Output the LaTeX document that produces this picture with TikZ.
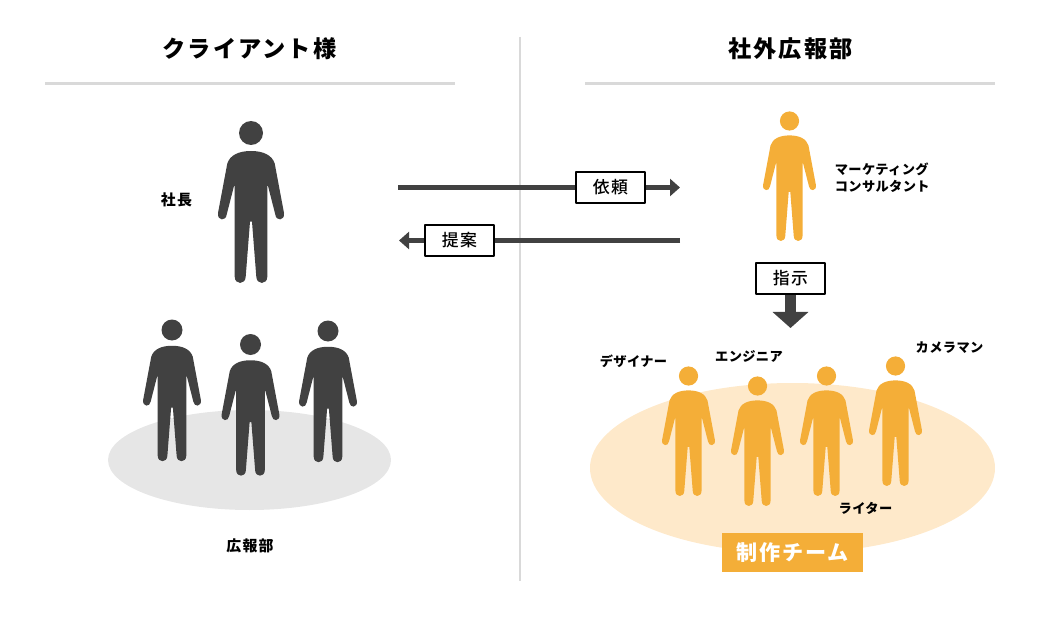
\documentclass[tikz,border=0pt]{standalone}
\usepackage{fontspec}
\usepackage{tikz}
\usetikzlibrary{arrows.meta}
\setmainfont{Noto Sans CJK JP}
\newfontfamily\headfont[LetterSpace=9]{Noto Sans CJK JP}
\newfontfamily\labelfont[LetterSpace=3]{Noto Sans CJK JP}
\newfontfamily\widefont[LetterSpace=8]{Noto Sans CJK JP}
\newfontfamily\tagfont[LetterSpace=8]{Noto Sans CJK JP Medium}
\definecolor{darkgrey}{HTML}{414141}
\definecolor{rulegrey}{HTML}{D9D9D9}
\definecolor{softgrey}{HTML}{E6E6E6}
\definecolor{teamorange}{HTML}{F4AE38}
\definecolor{softorange}{HTML}{FEE9CA}
\tikzset{
	person/.pic={
		\path[pic actions] (0,0) circle (12);
		\path[pic actions] (0,18) .. controls (-12,18) and (-21,22) .. (-23.7,30.5) -- (-33,80)
			.. controls (-34,88) and (-25,88.5) .. (-24.3,81.5) -- (-17,53) -- (-16.3,53) -- (-16.3,143.7)
			.. controls (-16.3,152) and (-5.5,152) .. (-5.3,143.7) -- (-1,88.7) -- (1,88.7) -- (5.3,143.7)
			.. controls (5.5,152) and (16.3,152) .. (16.3,143.7) -- (16.3,53) -- (17,53) -- (24.3,81.5)
			.. controls (25,88.5) and (34,88) .. (33,80) -- (23.7,30.5)
			.. controls (21,22) and (12,18) .. (0,18) -- cycle;
	},
	headline/.style={font=\headfont\bfseries\fontsize{16.5pt}{18pt}\selectfont, inner sep=0pt},
	rolelabel/.style={font=\labelfont\bfseries\fontsize{9.4pt}{12pt}\selectfont, inner sep=0pt},
	widelabel/.style={font=\widefont\bfseries\fontsize{10.6pt}{12pt}\selectfont, inner sep=0pt},
	tagbox/.style={draw=black, fill=white, line width=0.05cm, minimum width=1.725cm, minimum height=0.775cm, inner sep=0pt, font=\tagfont\fontsize{12pt}{13pt}\selectfont},
	rulerline/.style={rulegrey, line width=0.075cm},
	flowline/.style={darkgrey, line width=0.125cm},
}
\begin{document}
\begin{tikzpicture}[x=0.025cm,y=-0.025cm, line join=round]
	\useasboundingbox (0,0) rectangle (1040,617);
	\fill[softgrey] (249.5,460) ellipse (141.5 and 50);
	\fill[softorange] (792.5,468) ellipse (202.5 and 85);
	\coordinate (leftruleA) at (45,83.5);
	\coordinate (leftruleB) at (455,83.5);
	\coordinate (rightruleA) at (585,83.5);
	\coordinate (rightruleB) at (995,83.5);
	\coordinate (midtop) at (520,37);
	\coordinate (midbottom) at (520,581);
	\draw[rulerline] (leftruleA) -- (leftruleB);
	\draw[rulerline] (rightruleA) -- (rightruleB);
	\draw[rulegrey, line width=0.05cm] (midtop) -- (midbottom);
	\node[headline] (clienttitle) at (249.5,49) {クライアント様};
	\node[headline] (pressititle) at (790.5,49) {社外広報部};
	\pic[fill=darkgrey] (president) at (251,133) {person};
	\pic[fill=darkgrey, scale=0.875] (staffA) at (172,330) {person};
	\pic[fill=darkgrey, scale=0.875] (staffB) at (250.5,344.5) {person};
	\pic[fill=darkgrey, scale=0.875] (staffC) at (328,331) {person};
	\pic[fill=teamorange, scale=0.8] (consultant) at (789.5,121) {person};
	\pic[fill=teamorange, scale=0.8] (designer) at (688.5,376) {person};
	\pic[fill=teamorange, scale=0.8] (engineer) at (757.5,386) {person};
	\pic[fill=teamorange, scale=0.8] (writer) at (826.5,376) {person};
	\pic[fill=teamorange, scale=0.8] (cameraman) at (895.5,366) {person};
	\node[widelabel] (presidentlabel) at (176.5,199.5) {社長};
	\node[widelabel] (stafflabel) at (250,545.5) {広報部};
	\node[rolelabel, align=left, anchor=west] (consultantlabel) at (834.5,177.5) {マーケティング\\コンサルタント};
	\node[rolelabel] (designerlabel) at (633.5,361) {デザイナー};
	\node[rolelabel] (engineerlabel) at (749,356) {エンジニア};
	\node[rolelabel] (cameralabel) at (949.5,347.5) {カメラマン};
	\node[rolelabel] (writerlabel) at (865.5,508) {ライター};
	\node[tagbox] (request) at (610.5,187.5) {依頼};
	\node[tagbox] (proposal) at (459.5,240.5) {提案};
	\node[tagbox] (instruct) at (790.5,278.5) {指示};
	\coordinate (requestA) at (398,187.5);
	\coordinate (requestB) at (680,187.5);
	\coordinate (proposalA) at (680,240.5);
	\coordinate (proposalB) at (399,240.5);
	\coordinate (instructB) at (790.5,328);
	\draw[flowline] (requestA) -- (request);
	\draw[flowline, -{Triangle[length=0.25cm,width=0.425cm]}] (request) -- (requestB);
	\draw[flowline] (proposalA) -- (proposal);
	\draw[flowline, -{Triangle[length=0.25cm,width=0.425cm]}] (proposal) -- (proposalB);
	\draw[darkgrey, line width=0.275cm, -{Triangle[length=0.4cm,width=0.875cm]}] (instruct) -- (instructB);
	\node[fill=teamorange, text=white, minimum width=3.525cm, minimum height=0.975cm, inner sep=0pt, font=\headfont\bfseries\fontsize{15pt}{17pt}\selectfont] (team) at (792.5,552.5) {制作チーム};
\end{tikzpicture}
\end{document}
